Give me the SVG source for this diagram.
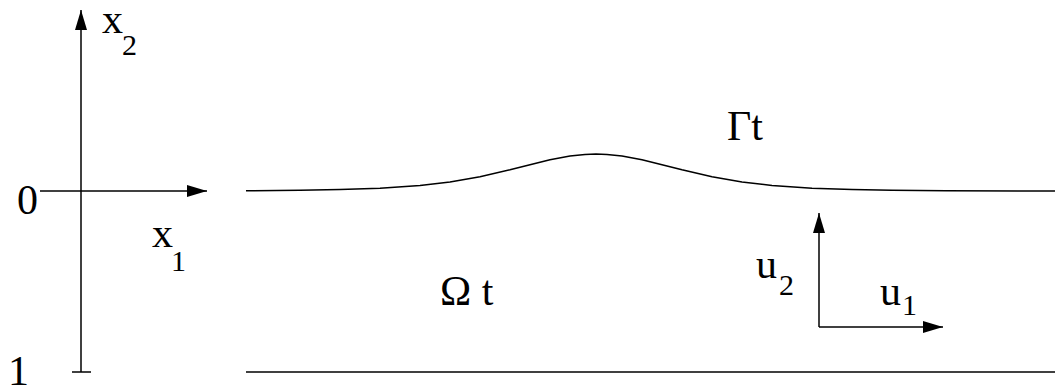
<svg xmlns="http://www.w3.org/2000/svg" width="1055" height="385" viewBox="0 0 1055 385">
<style>
.ln{stroke:#000;stroke-width:1.5;fill:none}
text{fill:#000;font-family:"Liberation Serif","Times New Roman",serif}
.m{font-size:42px}
.s{font-size:30px}
</style>
<defs>
<marker id="ah" viewBox="0 0 20 12" refX="20" refY="6" markerWidth="20" markerHeight="12" markerUnits="userSpaceOnUse" orient="auto">
<path d="M0,0 L20,6 L0,12 Z" fill="#000"/>
</marker>
</defs>
<rect width="1055" height="385" fill="#fff"/>
<g id="connectors">
<line class="ln" x1="81" y1="372" x2="81" y2="10" marker-end="url(#ah)"/>
<line class="ln" x1="72" y1="372" x2="91" y2="372"/>
<line class="ln" x1="40" y1="191" x2="207" y2="191" marker-end="url(#ah)"/>
<line class="ln" x1="819" y1="327" x2="819" y2="213" marker-end="url(#ah)"/>
<line class="ln" x1="819" y1="327" x2="943" y2="327" marker-end="url(#ah)"/>
</g>
<g id="surface">
<polyline class="ln" stroke-linejoin="round" points="246,190.7 300,190.3 340,189.6 380,188.2 420,185.4 450,181.9 480,176.7 510,169.8 530,164.7 550,159.8 570,156 585,154.4 596,154 607,154.4 622,156 642,159.8 662,164.7 682,169.8 712,176.7 742,181.9 772,185.4 812,188.2 852,189.6 892,190.3 946,190.7 1055,191"/>
</g>
<g id="bottom">
<line class="ln" x1="246" y1="372" x2="1055" y2="372"/>
</g>
<g id="labels">
<text class="m" x="17" y="214" font-size="44">0</text>
<text class="m" x="8" y="385" font-size="44">1</text>
<text class="m" x="102" y="33">x</text>
<text class="s" x="122" y="55">2</text>
<text class="m" x="152" y="247">x</text>
<text class="s" x="171" y="271">1</text>
<text class="m" x="727" y="140">Γt</text>
<text class="m" x="440" y="305">Ω t</text>
<text class="m" x="756" y="278">u</text>
<text class="s" x="779" y="295">2</text>
<text class="m" x="880" y="305">u</text>
<text class="s" x="902" y="315">1</text>
</g>
</svg>
